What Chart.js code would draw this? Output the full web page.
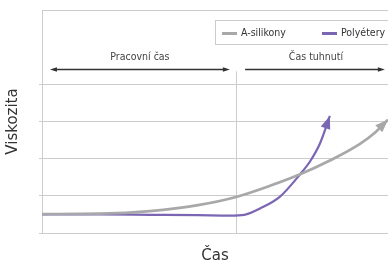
<!DOCTYPE html>
<html>
<head>
<meta charset="utf-8">
<script src="https://cdn.jsdelivr.net/npm/chart.js@4"></script>
<style>
  html, body { margin: 0; padding: 0; background: #fff; }
  #wrap { width: 388px; height: 264px; }
</style>
</head>
<body>
<div id="wrap"><canvas id="myChart"></canvas></div>
<script>
// data
const seriesNames = ['A-silikony', 'Polyétery'];
const siliconeX = [0, 16.8, 31.2, 45.1, 56.1, 65.9, 74.6, 83.2, 91.9, 96.2, 100];
const siliconeY = [0.51, 0.52, 0.59, 0.75, 0.97, 1.27, 1.58, 1.95, 2.4, 2.7, 3.05];
const polyetherX = [0, 16.8, 31.2, 45.1, 54.3, 58.5, 63, 68.8, 74.6, 77.5, 80.3, 83.2];
const polyetherY = [0.5, 0.5, 0.49, 0.48, 0.47, 0.49, 0.66, 0.98, 1.58, 1.93, 2.4, 3.15];
const phaseNames = ['Pracovní čas', 'Čas tuhnutí'];
const phaseSplit = 56.1;

const grey = '#a8a8aa';
const purple = '#7b66b4';
const narrow = '"DejaVu Sans Condensed", "Liberation Sans Narrow", sans-serif';

function pts(xs, ys) { return xs.map((x, i) => ({ x, y: ys[i] })); }

function arrowHead(ctx, x, y, ang, len, w) {
  ctx.beginPath();
  ctx.moveTo(x, y);
  ctx.lineTo(x - len * Math.cos(ang) + w * Math.sin(ang), y - len * Math.sin(ang) - w * Math.cos(ang));
  ctx.lineTo(x - len * Math.cos(ang) - w * Math.sin(ang), y - len * Math.sin(ang) + w * Math.cos(ang));
  ctx.closePath();
  ctx.fill();
}

// extra drawing: phase arrows, split line, curve arrowheads, legend
const extras = {
  id: 'extras',
  beforeDatasetsDraw(chart) {
    const { ctx, chartArea, scales: { x, y } } = chart;
    ctx.save();
    // top border
    ctx.strokeStyle = '#cccccc';
    ctx.lineWidth = 1;
    ctx.beginPath();
    ctx.moveTo(chartArea.left, Math.round(chartArea.top) + 0.5);
    ctx.lineTo(chartArea.right, Math.round(chartArea.top) + 0.5);
    ctx.stroke();

    // split line
    const sx = Math.round(x.getPixelForValue(phaseSplit)) + 0.5;
    ctx.beginPath();
    ctx.moveTo(sx, y.getPixelForValue(4.35));
    ctx.lineTo(sx, y.getPixelForValue(0));
    ctx.stroke();

    // phase arrows
    const ay = Math.round(y.getPixelForValue(4.41)) + 0.5;
    ctx.strokeStyle = '#333';
    ctx.fillStyle = '#333';
    ctx.lineWidth = 1.3;
    const l1 = x.getPixelForValue(2.3), r1 = x.getPixelForValue(54.3);
    const l2 = x.getPixelForValue(58.7), r2 = x.getPixelForValue(99.1);
    ctx.beginPath();
    ctx.moveTo(l1 + 4, ay); ctx.lineTo(r1 - 4, ay);
    ctx.moveTo(l2, ay); ctx.lineTo(r2 - 4, ay);
    ctx.stroke();
    arrowHead(ctx, l1, ay, Math.PI, 7, 2.3);
    arrowHead(ctx, r1, ay, 0, 7, 2.3);
    arrowHead(ctx, r2, ay, 0, 7, 2.3);

    // phase labels
    ctx.font = '10.5px ' + narrow;
    ctx.fillStyle = '#444';
    ctx.textAlign = 'center';
    ctx.textBaseline = 'middle';
    const ly = y.getPixelForValue(4.74);
    ctx.fillText(phaseNames[0], (l1 + r1) / 2, ly);
    ctx.fillText(phaseNames[1], (l2 + r2) / 2 + 1, ly);

    // legend box
    ctx.strokeStyle = '#cccccc';
    ctx.lineWidth = 1;
    ctx.strokeRect(215.5, 20.5, 180, 24);
    const items = [[222, grey], [322, purple]];
    items.forEach(([lx, c], i) => {
      ctx.fillStyle = c;
      ctx.fillRect(lx, 32, 15, 3);
      ctx.fillStyle = '#333';
      ctx.textAlign = 'left';
      ctx.fillText(seriesNames[i], lx + 19, 33);
    });
    ctx.restore();
  },
  afterDatasetsDraw(chart) {
    const { ctx } = chart;
    ctx.save();
    chart.data.datasets.forEach((ds, i) => {
      const els = chart.getDatasetMeta(i).data;
      const a = els[els.length - 1], b = els[els.length - 2];
      const cp = a.cp1x !== undefined ? { x: a.cp1x, y: a.cp1y } : b;
      const ang = Math.atan2(a.y - cp.y, a.x - cp.x);
      ctx.fillStyle = ds.borderColor;
      arrowHead(ctx, a.x, a.y, ang, 13, 5);
    });
    ctx.restore();
  }
};

const data = {
  datasets: [
    {
      label: seriesNames[0],
      data: pts(siliconeX, siliconeY),
      borderColor: grey,
      borderWidth: 2.7,
      pointRadius: 0,
      cubicInterpolationMode: 'monotone'
    },
    {
      label: seriesNames[1],
      data: pts(polyetherX, polyetherY),
      borderColor: purple,
      borderWidth: 2.2,
      pointRadius: 0,
      cubicInterpolationMode: 'monotone'
    }
  ]
};

const config = {
  type: 'line',
  data,
  options: {
    responsive: true,
    maintainAspectRatio: false,
    animation: false,
    layout: { padding: { top: 10, right: 0, left: 0, bottom: 0 } },
    plugins: { legend: { display: false }, tooltip: { enabled: false } },
    scales: {
      x: {
        type: 'linear',
        min: 0,
        max: 100,
        grid: { display: false },
        border: { display: false },
        ticks: { display: false },
        title: {
          display: true,
          text: 'Čas',
          color: '#333',
          font: { family: '"DejaVu Sans", sans-serif', size: 15, lineHeight: 1 },
          padding: { top: 0, bottom: 0 }
        },
        afterFit: s => { s.height = 31; }
      },
      y: {
        min: 0,
        max: 6,
        grid: {
          color: c => c.tick && c.tick.value === 5 ? 'rgba(0,0,0,0)' : '#cccccc',
          tickColor: c => c.tick && (c.tick.value === 5 || c.tick.value === 6) ? 'rgba(0,0,0,0)' : '#cccccc',
          tickLength: 3,
          drawTicks: true
        },
        border: { display: true, color: '#cccccc' },
        ticks: { stepSize: 1, display: true, color: 'rgba(0,0,0,0)', font: { size: 1 }, padding: 0 },
        title: {
          display: true,
          text: 'Viskozita',
          color: '#333',
          font: { family: '"DejaVu Sans", sans-serif', size: 15, lineHeight: 1 },
          padding: { top: 6, bottom: 0 }
        },
        afterFit: s => { s.width = 42; }
      }
    }
  },
  plugins: [extras]
};

const myChart = new Chart(document.getElementById('myChart'), config);
</script>
</body>
</html>
